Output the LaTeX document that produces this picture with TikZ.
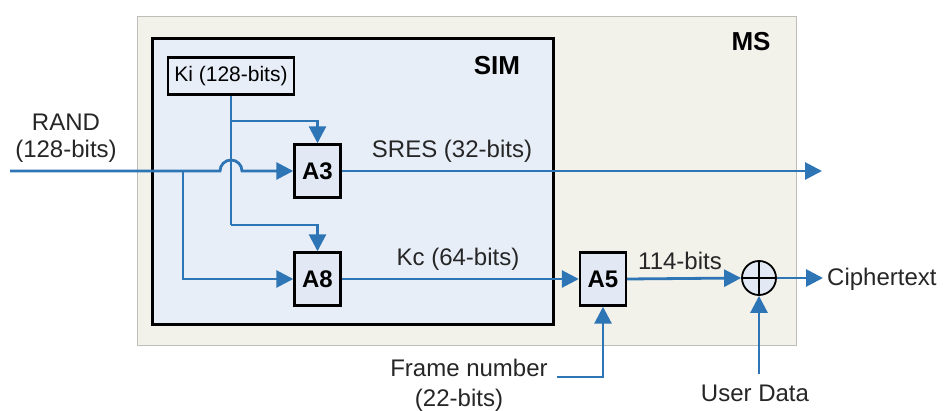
\documentclass[tikz,border=0pt]{standalone}
\usepackage{fontspec}
\setmainfont{Liberation Sans}
\usetikzlibrary{arrows.meta}
\definecolor{flowblue}{RGB}{46,117,182}
\definecolor{msfill}{RGB}{242,241,234}
\definecolor{msline}{RGB}{190,190,185}
\definecolor{simfill}{RGB}{232,238,248}
\definecolor{blkfill}{RGB}{226,233,245}
\begin{document}
\begin{tikzpicture}[x=1pt,y=-1pt,
  flow/.style={draw=flowblue,line width=2.8pt},
  arr/.style={flow,-{Triangle[length=17pt,width=17pt]}},
  algbox/.style={draw=black,line width=2.4pt,fill=blkfill,minimum width=46pt,minimum height=53pt,inner sep=0pt,font=\fontsize{24}{27}\selectfont\bfseries},
  lbl/.style={inner sep=0pt,font=\fontsize{24}{27}\selectfont,text=black!85},
  boldlbl/.style={inner sep=0pt,font=\fontsize{26}{29}\selectfont\bfseries}]
\useasboundingbox (0,0) rectangle (947,411);
\fill[white] (0,0) rectangle (947,411);
% MS box
\node[draw=msline,line width=1.2pt,fill=msfill,minimum width=659pt,minimum height=329pt,inner sep=0pt,anchor=north west] (ms) at (137,16) {};
\node[boldlbl] (mslbl) at (751,42) {MS};
% SIM box
\node[draw=black,line width=2.8pt,fill=simfill,minimum width=401pt,minimum height=286pt,inner sep=0pt,anchor=north west] (sim) at (151,37) {};
\node[boldlbl] (simlbl) at (497,66) {SIM};
% Ki
\node[draw=black,line width=2.4pt,fill=simfill,minimum width=126pt,minimum height=37pt,inner sep=0pt,font=\fontsize{21}{24}\selectfont] (ki) at (231,76) {Ki (128-bits)};
% blocks
\node[algbox] (a3) at (317.5,171) {A3};
\node[algbox] (a8) at (317.5,279) {A8};
\node[algbox] (a5) at (603,279) {A5};
\node[draw=black,line width=1.8pt,fill=blkfill,circle,minimum size=34pt,inner sep=0pt,
  path picture={\draw[black,line width=1.8pt] (path picture bounding box.north) -- (path picture bounding box.south) (path picture bounding box.west) -- (path picture bounding box.east);}] (xor) at (759,278) {};
% labels
\node[lbl] (rand1) at (66,122) {RAND};
\node[lbl] (rand2) at (66,151) {(128-bits)};
\node[lbl] (sres) at (452,151) {SRES (32-bits)};
\node[lbl] (kc) at (458,259) {Kc (64-bits)};
\node[lbl] (b114) at (680,261) {114-bits};
\node[lbl] (frame1) at (469,368) {Frame number};
\node[lbl] (frame2) at (459,400) {(22-bits)};
\node[lbl] (user) at (755,393) {User Data};
\node[lbl,anchor=west] (cipher) at (827,279) {Ciphertext};
% coordinates
\coordinate (randin) at (10,171);
\coordinate (jumpL) at (220,171);
\coordinate (branch) at (183,171);
\coordinate (kibend) at (231,121);
\coordinate (kiend) at (231,225);
\coordinate (sresout) at (822,171);
\coordinate (cipherout) at (823,278);
\coordinate (userin) at (759,374);
\coordinate (framein) at (557,377);
% connectors
\draw[arr] (randin) -- (jumpL) arc (180:360:11) -- (a3.west);
\draw[arr] (branch) |- (a8.west);
\draw[flow] (ki.south) -- (kiend);
\draw[arr] (kibend) -| (a3.north);
\draw[arr] (kiend) -| (a8.north);
\draw[arr] (a3.east) -- (sresout);
\draw[arr] (a8.east) -- (a5.west);
\draw[arr] (a5.east) -- (xor.west);
\draw[arr] (xor.east) -- (cipherout);
\draw[arr] (userin) -- (xor.south);
\draw[arr] (framein) -| (a5.south);
\end{tikzpicture}
\end{document}
